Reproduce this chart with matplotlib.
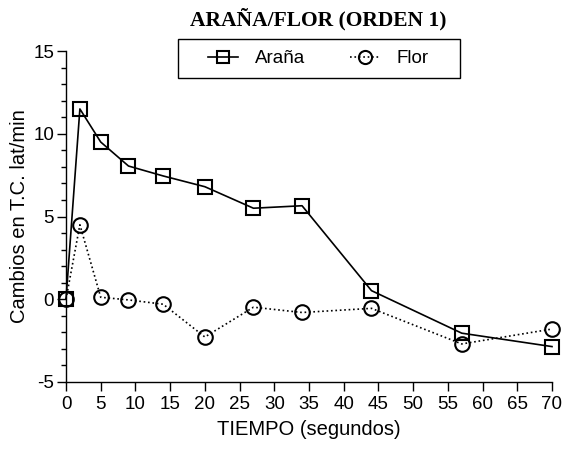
import matplotlib
matplotlib.use("Agg")
import matplotlib.pyplot as plt
from matplotlib.patches import Rectangle
from matplotlib.ticker import MultipleLocator

# data
tiempo = [0, 2, 5, 9, 14, 20, 27, 34, 44, 57, 70]
arana = [0.0, 11.5, 9.5, 8.05, 7.45, 6.8, 5.5, 5.65, 0.52, -2.05, -2.86]
flor = [0.0, 4.5, 0.12, -0.04, -0.3, -2.28, -0.48, -0.8, -0.55, -2.7, -1.8]

x_ticks = list(range(0, 75, 5))
y_ticks = [-5, 0, 5, 10, 15]

plt.rcParams['font.family'] = ['Liberation Sans', 'DejaVu Sans']
plt.rcParams['axes.unicode_minus'] = False

W, H = 563, 449
fig = plt.figure(figsize=(W / 100, H / 100), dpi=100)
ax = fig.add_axes([66 / W, 1 - 382 / H, 486 / W, 331 / H])

ax.plot(tiempo, arana, color="black", lw=1.2, marker="s", markersize=10,
        fillstyle="none", markeredgewidth=1.5, label="Araña", clip_on=False)
ax.plot(tiempo, flor, color="black", lw=1.2, ls=":", marker="o", markersize=10.5,
        fillstyle="none", markeredgewidth=1.5, label="Flor", clip_on=False)

ax.set_xlim(0, 70)
ax.set_ylim(-5, 15)
ax.set_xticks(x_ticks)
ax.set_yticks(y_ticks)
ax.yaxis.set_minor_locator(MultipleLocator(1))

for side in ("top", "right"):
    ax.spines[side].set_visible(False)
for side in ("left", "bottom"):
    ax.spines[side].set_linewidth(1.0)

ax.tick_params(axis="both", which="major", direction="out", length=6.5, width=1,
               labelsize=13.5, pad=2)
ax.tick_params(axis="x", which="major", pad=3.5)
ax.tick_params(axis="y", which="minor", direction="out", length=3.5, width=1)

ax.set_xlabel("TIEMPO (segundos)", fontsize=14.5, labelpad=5)
ax.set_ylabel("Cambios en T.C. lat/min", fontsize=14.5, labelpad=3)

fig.text(318.5 / W, 1 - 19 / H, "ARAÑA/FLOR (ORDEN 1)", ha="center", va="center",
         fontsize=15.5, fontweight="bold", family=["Liberation Serif", "DejaVu Serif"])

leg = fig.legend(loc="center", bbox_to_anchor=(318.5 / W, 1 - 58.5 / H), ncol=2,
                 fontsize=13.5, frameon=False, handlelength=1.6, borderpad=0,
                 columnspacing=2.4, handletextpad=0.9, markerscale=0.9)
fig.patches.append(Rectangle((178 / W, 1 - 78 / H), 282 / W, 39 / H,
                             transform=fig.transFigure, fill=False,
                             edgecolor="black", linewidth=1.0))

fig.savefig("out.png", dpi=100)
